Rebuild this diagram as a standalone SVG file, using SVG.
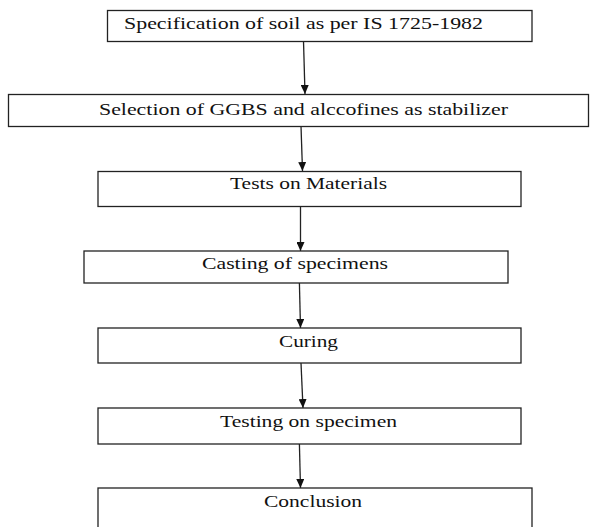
<svg xmlns="http://www.w3.org/2000/svg" width="590" height="527" viewBox="0 0 590 527">
<defs>
<marker id="ah" markerUnits="userSpaceOnUse" markerWidth="9" markerHeight="8" viewBox="0 0 9 8" refX="9" refY="4" orient="auto">
<path d="M0,0 L9,4 L0,8 Z" fill="#111"/>
</marker>
<style>
.box{fill:#fff;stroke:#222;stroke-width:1.3}
.lbl{font-family:"Liberation Serif","Times New Roman",serif;font-size:16px;fill:#111}
.con{stroke:#222;stroke-width:1.3;fill:none}
</style>
</defs>
<rect width="590" height="527" fill="#fff"/>
<g id="connectors">
<line class="con" x1="303.5" y1="41" x2="305" y2="94" marker-end="url(#ah)"/>
<line class="con" x1="301" y1="126" x2="302.5" y2="171" marker-end="url(#ah)"/>
<line class="con" x1="300.5" y1="206" x2="300.5" y2="251" marker-end="url(#ah)"/>
<line class="con" x1="299.4" y1="283" x2="300.5" y2="328" marker-end="url(#ah)"/>
<line class="con" x1="301" y1="363" x2="303" y2="408" marker-end="url(#ah)"/>
<line class="con" x1="299.4" y1="444" x2="300.5" y2="488" marker-end="url(#ah)"/>
</g>
<g id="n1">
<rect class="box" x="107.5" y="10.5" width="424.5" height="31"/>
<text class="lbl" x="124" y="29" textLength="359" lengthAdjust="spacingAndGlyphs">Specification of soil as per IS 1725-1982</text>
</g>
<g id="n2">
<rect class="box" x="8.5" y="94.5" width="580" height="32"/>
<text class="lbl" x="99" y="115" textLength="409" lengthAdjust="spacingAndGlyphs">Selection of GGBS and alccofines as stabilizer</text>
</g>
<g id="n3">
<rect class="box" x="98" y="171.5" width="423" height="35"/>
<text class="lbl" x="230" y="189" textLength="157" lengthAdjust="spacingAndGlyphs">Tests on Materials</text>
</g>
<g id="n4">
<rect class="box" x="84" y="251" width="424" height="32"/>
<text class="lbl" x="202" y="269" textLength="186" lengthAdjust="spacingAndGlyphs">Casting of specimens</text>
</g>
<g id="n5">
<rect class="box" x="98" y="328" width="423" height="35"/>
<text class="lbl" x="279" y="347" textLength="59" lengthAdjust="spacingAndGlyphs">Curing</text>
</g>
<g id="n6">
<rect class="box" x="98" y="408" width="423" height="36"/>
<text class="lbl" x="220" y="427" textLength="177" lengthAdjust="spacingAndGlyphs">Testing on specimen</text>
</g>
<g id="n7">
<rect class="box" x="98" y="488" width="434" height="45"/>
<text class="lbl" x="264" y="507" textLength="98" lengthAdjust="spacingAndGlyphs">Conclusion</text>
</g>
</svg>
